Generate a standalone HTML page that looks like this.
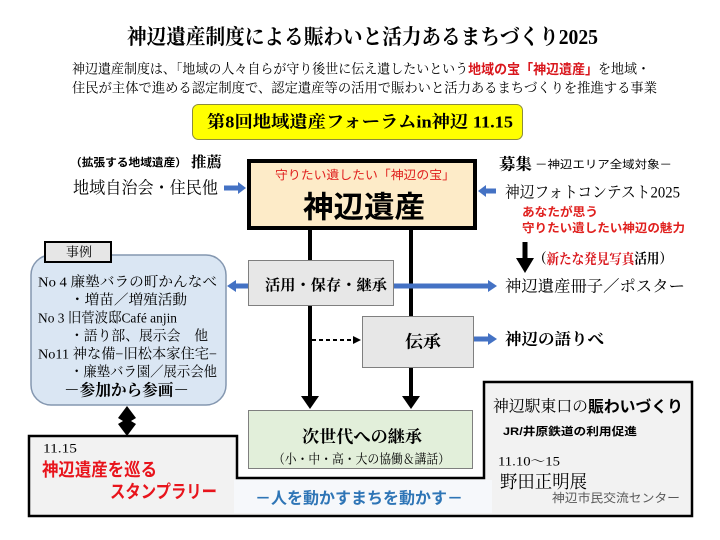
<!DOCTYPE html>
<html><head><meta charset="utf-8">
<style>
html,body{margin:0;padding:0;background:#fff;}
svg{display:block;}
.ser{font-family:"Liberation Serif","Noto Serif CJK SC",serif;}
.sans{font-family:"Liberation Sans","Noto Sans CJK JP",sans-serif;}
.b{font-weight:bold;}
text{dominant-baseline:central;}
</style></head>
<body>
<svg width="720" height="540" viewBox="0 0 720 540" xmlns="http://www.w3.org/2000/svg">
<rect x="0" y="0" width="720" height="540" fill="#fff"/>

<!-- Title -->
<text class="ser b" x="127" y="37" font-size="21" textLength="471" lengthAdjust="spacingAndGlyphs" fill="#000">神辺遺産制度による賑わいと活力あるまちづくり2025</text>
<text class="ser" x="72" y="69" font-size="13.5" textLength="578" lengthAdjust="spacingAndGlyphs" fill="#000">神辺遺産制度は、「地域の人々自らが守り後世に伝え遺したいという<tspan class="sans b" fill="#d9161c">地域の宝「神辺遺産」</tspan>を地域・</text>
<text class="ser" x="72" y="88" font-size="13.5" textLength="585" lengthAdjust="spacingAndGlyphs" fill="#000">住民が主体で進める認定制度で、認定遺産等の活用で賑わいと活力あるまちづくりを推進する事業</text>

<!-- Yellow forum box -->
<rect x="192.5" y="104.5" width="330" height="35" rx="6" fill="#ffff00" stroke="#8c8c3c" stroke-width="1"/>
<text class="ser b" x="207" y="122" font-size="17" textLength="306" lengthAdjust="spacingAndGlyphs" fill="#000">第8回地域遺産フォーラムin神辺 11.15</text>

<!-- Left top -->
<text class="sans b" x="70" y="163" font-size="11" textLength="117" lengthAdjust="spacingAndGlyphs" fill="#000">（拡張する地域遺産）</text>
<text class="ser b" x="191" y="163" font-size="15" textLength="31" lengthAdjust="spacingAndGlyphs" fill="#000">推薦</text>
<text class="ser" x="73" y="188" font-size="17" textLength="145" lengthAdjust="spacingAndGlyphs" fill="#000">地域自治会・住民他</text>
<rect x="224" y="185.5" width="15" height="5" fill="#4472c4"/>
<polygon points="238,182 238,194 246,188" fill="#4472c4"/>

<!-- Vertical connectors -->
<line x1="310" y1="229" x2="310" y2="398" stroke="#000" stroke-width="4"/>
<polygon points="301,396 319,396 310,409" fill="#000"/>
<line x1="411" y1="229" x2="411" y2="398" stroke="#000" stroke-width="4"/>
<polygon points="402,396 420,396 411,409" fill="#000"/>

<!-- Main box -->
<rect x="249" y="161" width="226" height="67" fill="#fdebc8" stroke="#000" stroke-width="4"/>
<text class="sans" x="275" y="175" font-size="12" textLength="180" lengthAdjust="spacingAndGlyphs" fill="#e0201e">守りたい遺したい「神辺の宝」</text>
<text class="sans b" x="303" y="208" font-size="30" textLength="122" lengthAdjust="spacingAndGlyphs" fill="#000">神辺遺産</text>

<!-- Right top -->
<text class="ser b" x="499" y="165" font-size="16" textLength="33" lengthAdjust="spacingAndGlyphs" fill="#000">募集</text>
<text class="sans" x="535" y="165" font-size="11" textLength="137" lengthAdjust="spacingAndGlyphs" fill="#000">－神辺エリア全域対象－</text>
<text class="ser" x="505" y="193" font-size="16" textLength="175" lengthAdjust="spacingAndGlyphs" fill="#000">神辺フォトコンテスト2025</text>
<rect x="485" y="188.5" width="11" height="5" fill="#4472c4"/>
<polygon points="486,185 486,197 478,191" fill="#4472c4"/>
<text class="sans b" x="522" y="212" font-size="12" textLength="76" lengthAdjust="spacingAndGlyphs" fill="#e0201e">あなたが思う</text>
<text class="sans b" x="522" y="228" font-size="12" textLength="163" lengthAdjust="spacingAndGlyphs" fill="#e0201e">守りたい遺したい神辺の魅力</text>

<!-- Black down arrow -->
<rect x="522.5" y="242" width="5" height="18" fill="#000"/>
<polygon points="516,258 534,258 525,273" fill="#000"/>
<text class="ser b" x="534" y="260" font-size="14" textLength="138" lengthAdjust="spacingAndGlyphs" fill="#000">（<tspan fill="#d9161c">新たな発見写真</tspan>活用）</text>

<!-- 活用 box -->
<rect x="248.5" y="260.5" width="145" height="45" fill="#e7e7e7" stroke="#7f7f7f" stroke-width="1"/>
<text class="ser b" x="265" y="286" font-size="15" textLength="122" lengthAdjust="spacingAndGlyphs" fill="#000">活用・保存・継承</text>
<rect x="235" y="283.5" width="13" height="5" fill="#4472c4"/>
<polygon points="236,280 236,292 227,286" fill="#4472c4"/>
<rect x="394" y="283.5" width="95" height="5" fill="#4472c4"/>
<polygon points="488,280 488,292 497,286" fill="#4472c4"/>
<text class="ser" x="505" y="287" font-size="16" textLength="180" lengthAdjust="spacingAndGlyphs" fill="#000">神辺遺産冊子／ポスター</text>

<!-- 伝承 box -->
<rect x="362.5" y="316.5" width="111" height="51" fill="#e7e7e7" stroke="#7f7f7f" stroke-width="1"/>
<text class="ser b" x="405" y="342" font-size="17" textLength="36" lengthAdjust="spacingAndGlyphs" fill="#000">伝承</text>
<line x1="312" y1="340" x2="354" y2="340" stroke="#000" stroke-width="2" stroke-dasharray="4,3"/>
<polygon points="353,336 353,344 361,340" fill="#000"/>
<rect x="474" y="336.5" width="15" height="5" fill="#4472c4"/>
<polygon points="488,333 488,345 497,339" fill="#4472c4"/>
<text class="ser b" x="505" y="340" font-size="16" textLength="99" lengthAdjust="spacingAndGlyphs" fill="#000">神辺の語りべ</text>

<!-- 次世代 box -->
<rect x="248.5" y="410.5" width="224" height="58" fill="#e2efda" stroke="#7f7f7f" stroke-width="1"/>
<text class="ser b" x="302" y="437" font-size="17" textLength="120" lengthAdjust="spacingAndGlyphs" fill="#000">次世代への継承</text>
<text class="ser" x="273" y="459" font-size="13" textLength="177" lengthAdjust="spacingAndGlyphs" fill="#000">（小・中・高・大の協働＆講話）</text>

<!-- Case box -->
<rect x="31" y="255" width="195" height="150" rx="20" fill="#dae6f3" stroke="#8497b0" stroke-width="1.5"/>
<rect x="45" y="242" width="66" height="20" fill="#e6e6e6" stroke="#000" stroke-width="2"/>
<text class="ser" x="66" y="252" font-size="13" textLength="26" lengthAdjust="spacingAndGlyphs" fill="#000">事例</text>
<text class="ser" x="38" y="283" font-size="14" textLength="179" lengthAdjust="spacingAndGlyphs" fill="#000">No 4 廉塾バラの町かんなべ</text>
<text class="ser" x="70" y="301" font-size="14" textLength="117" lengthAdjust="spacingAndGlyphs" fill="#000">・増苗／増殖活動</text>
<text class="ser" x="38" y="319" font-size="14" textLength="139" lengthAdjust="spacingAndGlyphs" fill="#000">No 3 旧菅波邸Café anjin</text>
<text class="ser" x="70" y="337" font-size="14" textLength="138" lengthAdjust="spacingAndGlyphs" fill="#000">・語り部、展示会　他</text>
<text class="ser" x="38" y="355" font-size="14" textLength="179" lengthAdjust="spacingAndGlyphs" fill="#000">No11 神な備−旧松本家住宅−</text>
<text class="ser" x="70" y="373" font-size="14" textLength="147" lengthAdjust="spacingAndGlyphs" fill="#000">・廉塾バラ園／展示会他</text>
<text class="ser b" x="64" y="391" font-size="16" textLength="125" lengthAdjust="spacingAndGlyphs" fill="#000">－参加から参画－</text>

<!-- Diamond connector -->
<polygon points="127,406 136,418 131,421 136,424 127,436 118,424 123,421 118,418" fill="#000"/>

<!-- Bottom outline -->
<path d="M29,436 H237 V478 H484 V382 H692 V516 H29 Z" fill="#f2f2f2" stroke="#000" stroke-width="2.5"/>
<rect x="234" y="480" width="258" height="33" fill="#f6f8fb"/>

<text class="ser" x="43" y="448" font-size="13" textLength="34" lengthAdjust="spacingAndGlyphs" fill="#000">11.15</text>
<text class="sans b" x="42" y="470" font-size="18" textLength="115" lengthAdjust="spacingAndGlyphs" fill="#e8141c">神辺遺産を巡る</text>
<text class="sans b" x="110" y="492" font-size="18" textLength="107" lengthAdjust="spacingAndGlyphs" fill="#e8141c">スタンプラリー</text>

<text class="sans b" x="255" y="499" font-size="16" textLength="208" lengthAdjust="spacingAndGlyphs" fill="#2e75b6">－人を動かすまちを動かす－</text>

<text class="ser" x="493" y="407" font-size="16" textLength="190" lengthAdjust="spacingAndGlyphs" fill="#000">神辺駅東口の<tspan class="sans b">賑わいづくり</tspan></text>
<text class="sans b" x="503" y="432" font-size="11" textLength="134" lengthAdjust="spacingAndGlyphs" fill="#000">JR/井原鉄道の利用促進</text>
<text class="ser" x="498" y="461" font-size="13" textLength="62" lengthAdjust="spacingAndGlyphs" fill="#000">11.10～15</text>
<text class="ser" x="500" y="482" font-size="18" textLength="87" lengthAdjust="spacingAndGlyphs" fill="#000">野田正明展</text>
<text class="sans" x="552" y="498" font-size="12" textLength="128" lengthAdjust="spacingAndGlyphs" fill="#595959">神辺市民交流センター</text>
</svg>
</body></html>
